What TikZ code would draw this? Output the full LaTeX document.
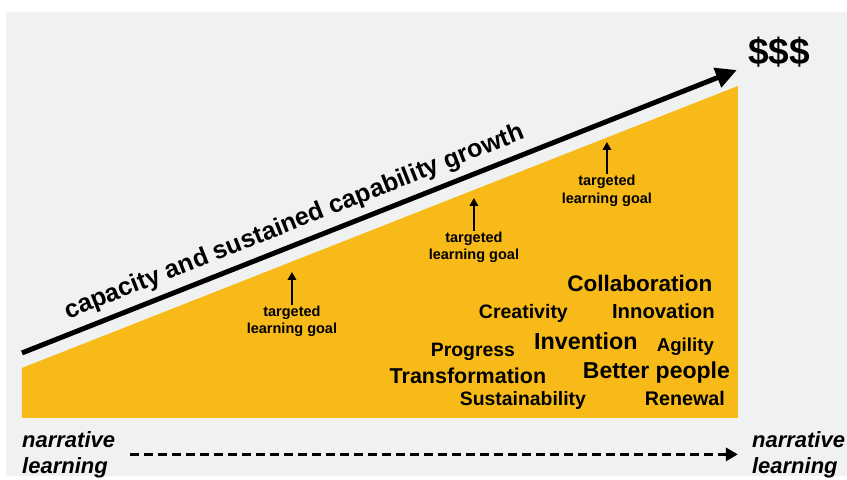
\documentclass[tikz,border=0pt]{standalone}
\usepackage{fontspec}
\setmainfont{Liberation Sans}
\usetikzlibrary{arrows.meta}

\definecolor{goldfill}{RGB}{247,186,24}
\definecolor{paper}{RGB}{240,242,242}

\begin{document}
\begin{tikzpicture}[x=1pt,y=-1pt,
  word/.style={anchor=base,inner sep=0pt,font=\bfseries\fontsize{#1}{#1}\selectfont},
  goal/.style={align=center,anchor=base,inner sep=1pt,font=\bfseries\fontsize{14.5}{17.3}\selectfont},
  goalarrow/.style={line width=1.8pt,-{Triangle[length=8pt,width=8.5pt]}},
  growth/.style={line width=5pt,-{Triangle[length=21pt,width=20pt]}},
  narrative/.style={align=left,inner sep=2pt,font=\bfseries\itshape\fontsize{22}{26}\selectfont},
  timeline/.style={line width=3pt,dash pattern=on 9pt off 5pt,-{Triangle[length=12pt,width=13pt]}}]
 % page and the rising area
 \fill[white] (0,0) rectangle (847,476);
 \fill[paper] (6,12) rectangle (847,476);
 \fill[goldfill] (22,368) -- (738,86) -- (738,418) -- (22,418) -- cycle;

 % growth line
 \coordinate (low) at (22,353);
 \coordinate (high) at (737,70);
 \draw[growth] (low) -- (high)
   node[pos=0.392,sloped,above=6.5pt,inner sep=0pt,font=\bfseries\fontsize{25.2}{25.2}\selectfont] (label) {capacity and sustained capability growth};
 \node[font=\bfseries\fontsize{37}{37}\selectfont] (cash) at (779,52) {\$\$\$};

 % learning goals (base = last line)
 \node[goal] (g1) at (292,334) {targeted\\learning goal};
 \node[goal] (g2) at (474,260) {targeted\\learning goal};
 \node[goal] (g3) at (607,203.3) {targeted\\learning goal};
 \coordinate (g1tip) at (292,272);
 \coordinate (g2tip) at (474,198);
 \coordinate (g3tip) at (607,142);
 \draw[goalarrow] (g1) -- (g1tip);
 \draw[goalarrow] (g2) -- (g2tip);
 \draw[goalarrow] (g3) -- (g3tip);

 % outcomes
 \node[word=22.5] (collab) at (640,291.7) {Collaboration};
 \node[word=19.5] (creat) at (523.5,319) {Creativity};
 \node[word=20.3] (innov) at (663.5,319) {Innovation};
 \node[word=23.3] (invent) at (586,350) {Invention};
 \node[word=18.7] (agile) at (685.5,352) {Agility};
 \node[word=19.4] (prog) at (473,357) {Progress};
 \node[word=21.5] (trans) at (468,384) {Transformation};
 \node[word=23] (better) at (656.5,379) {Better people};
 \node[word=19.4] (sustain) at (523,405.6) {Sustainability};
 \node[word=19.7] (renew) at (685,405.6) {Renewal};

 % narrative learning timeline
 \node[narrative,anchor=north west] (nleft) at (20,429) {narrative\\learning};
 \node[narrative,anchor=north west] (nright) at (750,429) {narrative\\learning};
 \draw[timeline,shorten <=13pt,shorten >=12pt] (nleft.east) -- (nright.west);
\end{tikzpicture}
\end{document}
